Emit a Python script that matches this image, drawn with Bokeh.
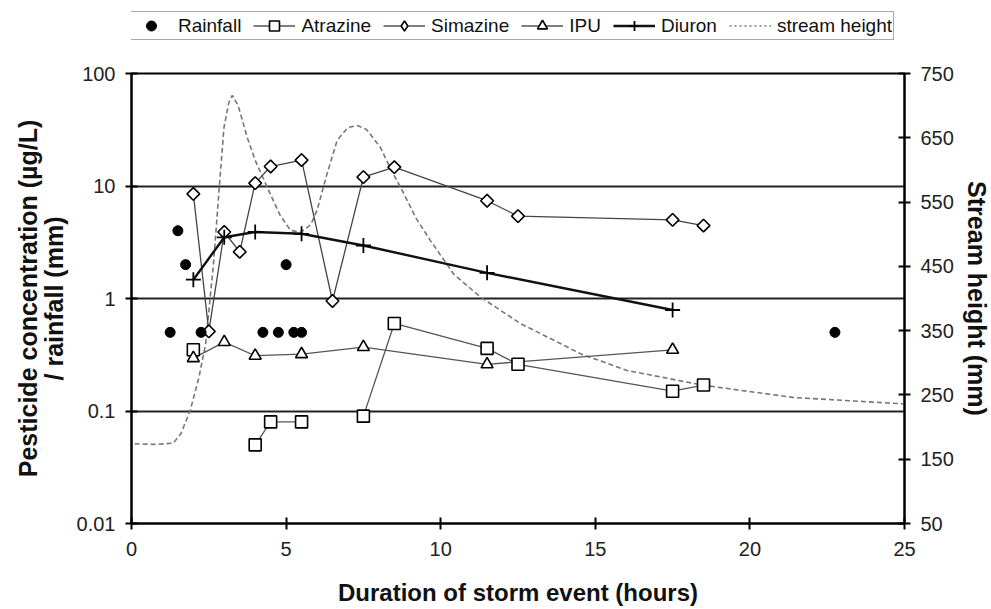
import numpy as np
from bokeh.plotting import figure
from bokeh.layouts import column
from bokeh.models import (Range1d, LinearAxis, LinearScale, FixedTicker, CustomJSTickFormatter,
                          Legend, LegendItem)
from bokeh.embed import file_html
from bokeh.resources import INLINE

# ---------------- data ----------------
rain_t = [1.25, 1.5, 1.75, 2.25, 4.25, 4.75, 5.0, 5.25, 5.5, 22.75]
rain_mm = [0.5, 4.0, 2.0, 0.5, 0.5, 0.5, 2.0, 0.5, 0.5, 0.5]

atrazine_t = [2.0, 4.0, 4.5, 5.5, 7.5, 8.5, 11.5, 12.5, 17.5, 18.5]
atrazine = [0.35, 0.05, 0.08, 0.08, 0.09, 0.6, 0.36, 0.26, 0.15, 0.17]
atrazine_run = [0, 1, 1, 1, 2, 2, 2, 2, 2, 2]

simazine_t = [2.0, 2.5, 3.0, 3.5, 4.0, 4.5, 5.5, 6.5, 7.5, 8.5, 11.5, 12.5, 17.5, 18.5]
simazine = [8.5, 0.51, 3.9, 2.6, 10.6, 14.9, 17.0, 0.95, 12.0, 14.7, 7.4, 5.4, 5.0, 4.45]

ipu_t = [2.0, 3.0, 4.0, 5.5, 7.5, 11.5, 17.5]
ipu = [0.295, 0.41, 0.31, 0.32, 0.37, 0.26, 0.35]

diuron_t = [2.0, 3.0, 4.0, 5.5, 7.5, 11.5, 17.5]
diuron = [1.47, 3.5, 3.9, 3.76, 2.96, 1.69, 0.79]

stream_t = [0.1, 0.8, 1.35, 1.6, 1.9, 2.18, 2.4, 2.66, 2.85, 2.99, 3.15, 3.26, 3.45,
            3.74, 4.0, 4.39, 4.8, 5.14, 5.47, 5.8, 6.0, 6.3, 6.65, 7.0, 7.3, 7.6,
            8.05, 8.4, 8.81, 9.2, 9.67, 10.42, 11.29, 12.58, 13.87, 14.52, 16.03,
            18.5, 21.42, 25.0]
stream_h = [174, 173, 175, 190, 226, 277, 330, 459, 580, 666, 705, 716, 700,
            651, 615, 573, 530, 506, 503, 515, 537, 590, 646, 666, 669, 663,
            635, 600, 563, 525, 490, 438, 402, 361, 330, 314, 288,
            265, 246, 236]

x_ticks = [0, 5, 10, 15, 20, 25]
y_ticks = [0.01, 0.1, 1, 10, 100]
y_grid = [0.1, 1, 10]
right_ticks = [50, 150, 250, 350, 450, 550, 650, 750]

FONT = "Liberation Sans"

# styles
ST_STREAM = dict(line_color="#777", line_dash="5 3", line_width=1.6)
ST_THIN = dict(line_color="#555", line_width=1.3)
ST_DIURON = dict(line_color="#111", line_width=2.4)
MK = dict(fill_color="white", line_color="black", line_width=1.6)

p = figure(x_range=Range1d(0, 25), y_range=Range1d(0.01, 100), y_axis_type="log",
           frame_width=773, frame_height=450,
           min_border_left=131, min_border_right=87, min_border_top=23, min_border_bottom=86,
           output_backend="svg", toolbar_location=None)
p.extra_y_ranges = {"stream": Range1d(50, 750)}
p.extra_y_scales = {"stream": LinearScale()}
p.background_fill_color = "white"
p.border_fill_color = "white"
p.outline_line_color = "black"
p.outline_line_width = 2

p.xgrid.visible = False
p.ygrid.ticker = FixedTicker(ticks=y_grid)
p.ygrid.grid_line_color = "#222"
p.ygrid.grid_line_width = 2.2

p.line(stream_t, stream_h, y_range_name="stream", **ST_STREAM)

ax_line, ay_line = [], []
for i, (t, v) in enumerate(zip(atrazine_t, atrazine)):
    if i > 0 and atrazine_run[i] != atrazine_run[i - 1]:
        ax_line.append(np.nan)
        ay_line.append(np.nan)
    ax_line.append(t)
    ay_line.append(v)

p.line(ax_line, ay_line, **ST_THIN)
p.line(simazine_t, simazine, line_color="#444", line_width=1.3)
p.line(ipu_t, ipu, **ST_THIN)
p.line(diuron_t, diuron, **ST_DIURON)

p.scatter(atrazine_t, atrazine, marker="square", size=12, **MK)
p.scatter(simazine_t, simazine, marker="square", angle=np.pi / 4, size=9, **MK)
p.scatter(ipu_t, ipu, marker="triangle", size=12, **MK)
p.scatter(diuron_t, diuron, marker="cross", size=15, line_color="black", line_width=1.8)
p.scatter(rain_t, rain_mm, marker="circle", size=10, fill_color="black", line_color="black")

xa = p.xaxis[0]
xa.ticker = FixedTicker(ticks=x_ticks)
xa.axis_label = "Duration of storm event (hours)"

ya = p.yaxis[0]
ya.ticker = FixedTicker(ticks=y_ticks)
ya.formatter = CustomJSTickFormatter(code="return String(tick);")
ya.axis_label = "Pesticide concentration (\u00b5g/L)\n/ rainfall (mm)"

ra = LinearAxis(y_range_name="stream", ticker=FixedTicker(ticks=right_ticks),
                axis_label="Stream height (mm)")
p.add_layout(ra, "right")

for ax in [xa, ya, ra]:
    ax.axis_line_color = "black"
    ax.axis_line_width = 2
    ax.major_tick_line_color = "black"
    ax.major_tick_line_width = 2
    ax.major_tick_in = 6
    ax.major_tick_out = 6
    ax.minor_tick_line_color = None
    ax.major_label_text_font = FONT
    ax.major_label_text_font_size = "20px"
    ax.major_label_text_color = "#222"
    ax.axis_label_text_font = FONT
    ax.axis_label_text_font_style = "bold"
    ax.axis_label_text_color = "#111"

xa.axis_label_text_font_size = "24px"
ya.axis_label_text_font_size = "25px"
ya.axis_label_text_line_height = 0.9
ra.axis_label_text_font_size = "25px"

xa.major_label_standoff = 12
xa.axis_label_standoff = 20
ya.major_label_standoff = 10
ya.axis_label_standoff = 6
ra.major_label_standoff = 10
ra.axis_label_standoff = 6

# ---------------- legend strip ----------------
lg = figure(width=991, height=50, x_range=Range1d(-100, -99), y_range=Range1d(0, 1),
            min_border=0, output_backend="svg", toolbar_location=None)
lg.axis.visible = False
lg.grid.visible = False
lg.outline_line_color = None
lg.border_fill_color = "white"

# legend renderers use the same data; the strip's x-range keeps them out of view
l_rain = lg.scatter(rain_t, rain_mm, marker="circle", size=10, fill_color="black", line_color="black")
l_al = lg.line(atrazine_t, atrazine, **ST_THIN)
l_am = lg.scatter(atrazine_t, atrazine, marker="square", size=12, **MK)
l_sl = lg.line(simazine_t, simazine, **ST_THIN)
l_sm = lg.scatter(simazine_t, simazine, marker="diamond", size=14, **MK)
l_il = lg.line(ipu_t, ipu, **ST_THIN)
l_im = lg.scatter(ipu_t, ipu, marker="triangle", size=12, **MK)
l_dl = lg.line(diuron_t, diuron, **ST_DIURON)
l_dm = lg.scatter(diuron_t, diuron, marker="cross", size=15, line_color="black", line_width=1.8)
l_st = lg.line(stream_t, stream_h, line_color="#777", line_dash="2 3", line_width=1.6)

legend = Legend(items=[
    LegendItem(label="Rainfall", renderers=[l_rain]),
    LegendItem(label="Atrazine", renderers=[l_al, l_am]),
    LegendItem(label="Simazine", renderers=[l_sl, l_sm]),
    LegendItem(label="IPU", renderers=[l_il, l_im]),
    LegendItem(label="Diuron", renderers=[l_dl, l_dm]),
    LegendItem(label="stream height", renderers=[l_st]),
], location=(-3, 10), orientation="horizontal")
legend.label_text_font = FONT
legend.label_text_font_size = "19px"
legend.label_text_color = "#111"
legend.border_line_color = "#555"
legend.border_line_width = 1.5
legend.glyph_width = 42
legend.glyph_height = 25
legend.label_standoff = 6
legend.spacing = 12
legend.padding = 1
legend.margin = 0
legend.background_fill_color = "white"
legend.background_fill_alpha = 1
lg.add_layout(legend)

layout = column(lg, p, spacing=0)
open("out.html", "w").write(file_html(layout, INLINE))
